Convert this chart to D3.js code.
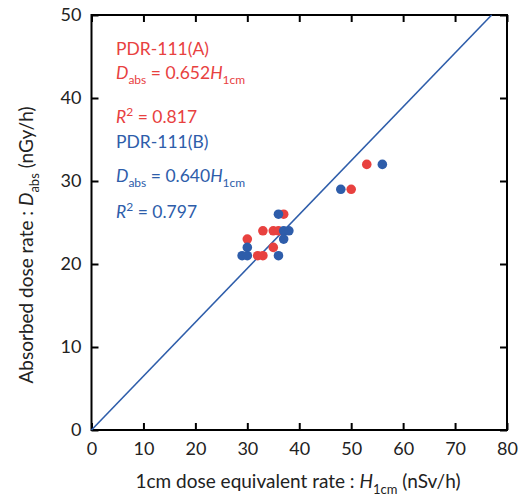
<!DOCTYPE html>
<html>
<head>
<title>Dose rate</title>
<script type="text/javascript" src="https://d3js.org/d3.v7.min.js"></script>
<style>
body { margin: 0; background: #fff; }
text { font-family: Lato, "Open Sans", sans-serif; }
</style>
</head>
<body>
<svg id="chart" width="527" height="500"></svg>
<script type="text/javascript">
// data
const seriesA_x = [53, 50, 37, 33, 35, 36, 30, 35, 32, 33];
const seriesA_y = [32, 29, 26, 24, 24, 24, 23, 22, 21, 21];
const seriesB_x = [56, 48, 36, 37, 38, 37, 30, 29, 30, 36];
const seriesB_y = [32, 29, 26, 24, 24, 23, 22, 21, 21, 21];
const xTicks = [0, 10, 20, 30, 40, 50, 60, 70, 80];
const yTicks = [0, 10, 20, 30, 40, 50];
const lineSlope = 0.649;

const RED = "#e8413f";
const BLUE = "#2e5daa";

const svg = d3.select("#chart");
const L = 91.5, R = 507, T = 15, B = 430;

const x = d3.scaleLinear().domain([0, 80]).range([L, R]);
const y = d3.scaleLinear().domain([0, 50]).range([B, T]);

// frame
svg.append("rect")
   .attr("x", L).attr("y", T)
   .attr("width", R - L).attr("height", B - T)
   .style("fill", "none").style("stroke", "#000").style("stroke-width", 2);

// ticks inward on all sides
const tk = 7;
const axBottom = svg.append("g").attr("transform", `translate(0,${B})`)
   .call(d3.axisBottom(x).tickValues(xTicks).tickSize(-tk).tickPadding(12));
const axTop = svg.append("g").attr("transform", `translate(0,${T})`)
   .call(d3.axisTop(x).tickValues(xTicks).tickSize(-tk).tickFormat(""));
const axLeft = svg.append("g").attr("transform", `translate(${L},0)`)
   .call(d3.axisLeft(y).tickValues(yTicks).tickSize(-tk).tickPadding(10));
const axRight = svg.append("g").attr("transform", `translate(${R},0)`)
   .call(d3.axisRight(y).tickValues(yTicks).tickSize(-tk).tickFormat(""));

[axBottom, axTop, axLeft, axRight].forEach(g => {
    g.select(".domain").remove();
    g.selectAll(".tick line").style("stroke", "#000").style("stroke-width", 2);
    g.selectAll("text").style("font-size", "18px").style("fill", "#222")
     .style("font-family", "Lato, sans-serif");
});

// fitted line
const x1 = 50 / lineSlope;
svg.append("line")
   .attr("x1", x(0)).attr("y1", y(0))
   .attr("x2", x(x1)).attr("y2", y(50))
   .style("stroke", BLUE).style("stroke-width", 1.6);

// points
function drawSeries(xs, ys, color) {
    svg.append("g").selectAll("circle")
       .data(xs.map((v, i) => [v, ys[i]]))
       .join("circle")
       .attr("cx", d => x(d[0]))
       .attr("cy", d => y(d[1]))
       .attr("r", 4.8)
       .style("fill", color);
}
drawSeries(seriesA_x, seriesA_y, RED);
drawSeries(seriesB_x, seriesB_y, BLUE);

// annotation text
function label(xp, yp, color, parts) {
    const t = svg.append("text").attr("x", xp).attr("y", yp)
       .style("fill", color).style("font-size", "17.5px");
    parts.forEach(p => {
        const s = t.append("tspan").text(p.t);
        if (p.i) s.style("font-style", "italic");
        if (p.sub) s.style("font-size", "12px").attr("dy", 5);
        if (p.sup) s.style("font-size", "12px").attr("dy", -7);
        if (p.back) s.attr("dy", p.back);
    });
}
label(116, 55, RED, [{t: "PDR-111(A)"}]);
label(116, 79, RED, [{t: "D", i: true}, {t: "abs", sub: true}, {t: " = 0.652", back: -5}, {t: "H", i: true}, {t: "1cm", sub: true}]);
label(116, 123, RED, [{t: "R", i: true}, {t: "2", sup: true}, {t: " = 0.817", back: 7}]);
label(116, 148, BLUE, [{t: "PDR-111(B)"}]);
label(116, 182, BLUE, [{t: "D", i: true}, {t: "abs", sub: true}, {t: " = 0.640", back: -5}, {t: "H", i: true}, {t: "1cm", sub: true}]);
label(116, 218, BLUE, [{t: "R", i: true}, {t: "2", sup: true}, {t: " = 0.797", back: 7}]);

// axis titles
const xt = svg.append("text").attr("x", 298).attr("y", 488)
   .attr("text-anchor", "middle").style("font-size", "19px").style("fill", "#222");
xt.append("tspan").text("1cm dose equivalent rate : ");
xt.append("tspan").text("H").style("font-style", "italic");
xt.append("tspan").text("1cm").style("font-size", "13px").attr("dy", 6);
xt.append("tspan").text(" (nSv/h)").attr("dy", -6);

const yt = svg.append("text")
   .attr("transform", `translate(33,245) rotate(-90)`)
   .attr("text-anchor", "middle").style("font-size", "19px").style("fill", "#222");
yt.append("tspan").text("Absorbed dose rate : ");
yt.append("tspan").text("D").style("font-style", "italic");
yt.append("tspan").text("abs").style("font-size", "13px").attr("dy", 6);
yt.append("tspan").text(" (nGy/h)").attr("dy", -6);
</script>
</body>
</html>
